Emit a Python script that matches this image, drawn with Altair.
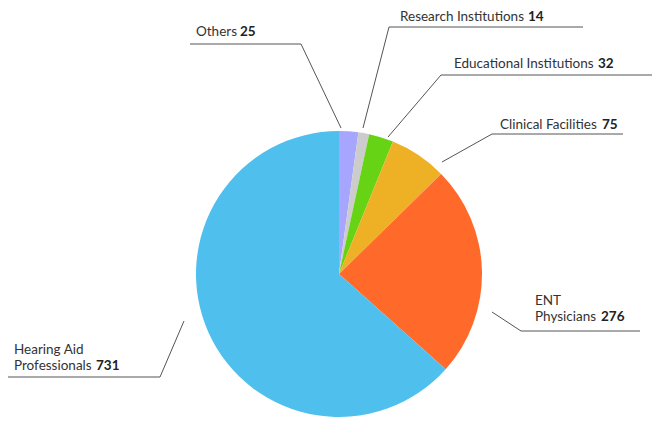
import altair as alt
import pandas as pd

# ---- data ----
categories = ["Others", "Research Institutions", "Educational Institutions",
              "Clinical Facilities", "ENT Physicians", "Hearing Aid Professionals"]
values = [25, 14, 32, 75, 276, 731]
colors = ["#a6a6fe", "#cccccc", "#66d314", "#eeb025", "#ff6a2b", "#4fbfee"]

# label text split into lines (last line carries the bold number)
label_lines = [["Others"], ["Research Institutions"], ["Educational Institutions"],
               ["Clinical Facilities"], ["ENT", "Physicians"], ["Hearing Aid", "Professionals"]]

# ---- layout (window pixel coordinates, page margin 8) ----
M = 8
W, H = 644, 409
CX, CY, R = 339, 274, 143
# text start x, number x, baselines of lines
text_x = [196, 400, 454, 500, 535, 14]
num_x = [240, 528, 598, 602, 601, 96]
baselines = [[36], [21], [68], [129], [305, 321], [354, 370]]
# leader lines: outer end, elbow, pie end
leaders = [
    [(190, 44), (301, 44), (341, 128)],
    [(583, 27), (389, 27), (363, 128)],
    [(657, 75), (441, 75), (388, 137)],
    [(623, 134), (492, 134), (442, 162)],
    [(640, 331), (521, 331), (492, 312)],
    [(2, 377), (160, 377), (184, 321)],
]

pie_df = pd.DataFrame({"category": categories, "value": values, "idx": range(len(values))})

txt_rows, num_rows, line_rows = [], [], []
for i, cat in enumerate(categories):
    lines = label_lines[i]
    for j, t in enumerate(lines):
        txt_rows.append({"t": t, "x": text_x[i] - M, "y": baselines[i][j] - M})
    num_rows.append({"t": str(values[i]), "x": num_x[i] - M, "y": baselines[i][-1] - M})
    for k, (px, py) in enumerate(leaders[i]):
        line_rows.append({"g": cat, "k": k, "x": px - M, "y": py - M})

xs = alt.Scale(domain=[0, W], range=[0, W])
ys = alt.Scale(domain=[0, H], range=[0, H])
FONT = "Lato"
FS = 13.5

pie = alt.Chart(pie_df).mark_arc(radius=R, stroke=None).encode(
    theta=alt.Theta("value:Q", stack=True),
    order=alt.Order("idx:Q"),
    color=alt.Color("category:N", scale=alt.Scale(domain=categories, range=colors), legend=None),
    x=alt.value(CX - M),
    y=alt.value(CY - M),
)

lines = alt.Chart(pd.DataFrame(line_rows)).mark_line(color="#555555", strokeWidth=1).encode(
    x=alt.X("x:Q", scale=xs, axis=None),
    y=alt.Y("y:Q", scale=ys, axis=None),
    detail="g:N",
    order="k:Q",
)

texts = alt.Chart(pd.DataFrame(txt_rows)).mark_text(
    align="left", baseline="alphabetic", font=FONT, fontSize=FS, color="#333333"
).encode(x=alt.X("x:Q", scale=xs, axis=None), y=alt.Y("y:Q", scale=ys, axis=None), text="t:N")

nums = alt.Chart(pd.DataFrame(num_rows)).mark_text(
    align="left", baseline="alphabetic", font=FONT, fontSize=FS, fontWeight="bold", color="#222222"
).encode(x=alt.X("x:Q", scale=xs, axis=None), y=alt.Y("y:Q", scale=ys, axis=None), text="t:N")

chart = alt.layer(pie, lines, texts, nums).properties(
    width=W, height=H, autosize="none", padding=0
).configure_view(stroke=None)

chart.save("out.html", embed_options={"renderer": "svg", "actions": False})
